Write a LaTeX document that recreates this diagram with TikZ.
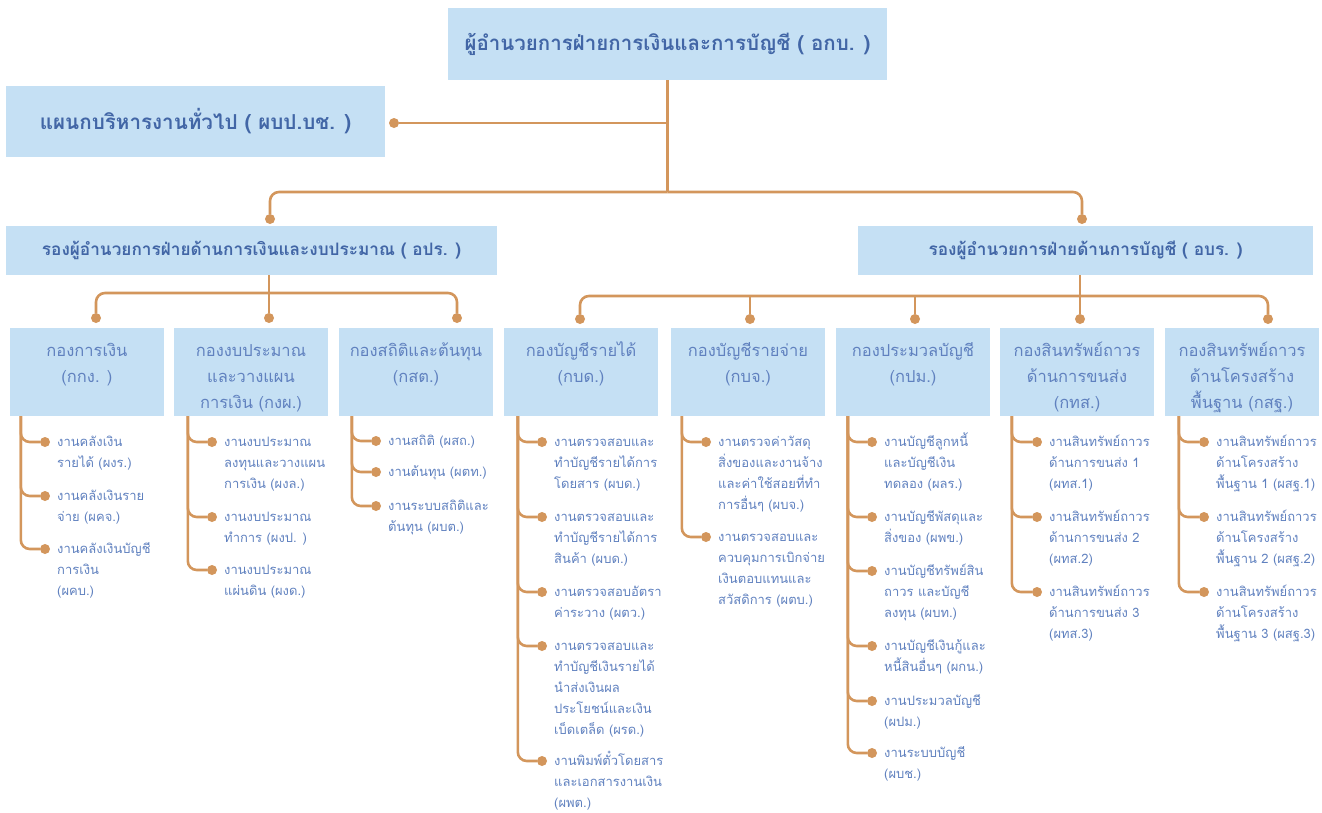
\documentclass[tikz,border=0pt]{standalone}
\usepackage{fontspec}
\setmainfont[Script=Thai]{Loma}
\usetikzlibrary{calc}
\definecolor{boxfill}{RGB}{197,224,244}
\definecolor{linec}{RGB}{211,150,92}
\definecolor{headc}{RGB}{66,102,166}
\definecolor{txtc}{RGB}{96,129,191}
\tikzset{
  bx/.style={fill=boxfill, inner sep=0pt, draw=none},
  headtext/.style={text=headc, font=\fontsize{#1}{#1}\selectfont\bfseries},
  divtext/.style={text=txtc, font=\fontsize{16.5}{26}\selectfont, align=center, inner sep=0pt, anchor=north},
  itemtext/.style={text=txtc, font=\fontsize{13}{21}\selectfont, align=left, inner sep=0pt, anchor=north west},
  dot/.style={circle, fill=linec, inner sep=0pt, minimum size=10pt},
  conn/.style={draw=linec, line width=2.6pt, rounded corners=9pt},
}
\newcommand{\orgitem}[5]{%
  \node[dot] (#1) at (#3,#4) {};
  \draw[conn] (#2) |- (#1);
  \node[itemtext] (#1-t) at ($(#1)+(12,-12)$) {\rule{0pt}{16pt}#5};
}
\newcommand{\divlabel}[3]{%
  \node[divtext] (#1) at (#2,336) {\rule{0pt}{20pt}#3};
}
\begin{document}
\begin{tikzpicture}[x=1pt,y=-1pt]
\useasboundingbox (0,0) rectangle (1322,812);
% main boxes
\node[bx, minimum width=439pt, minimum height=72pt, headtext=20.5] (top) at (667.5,44) {ผู้อำนวยการฝ่ายการเงินและการบัญชี ( อกบ. )};
\node[bx, minimum width=379pt, minimum height=71pt, headtext=20.6] (gen) at (195.5,121.5) {แผนกบริหารงานทั่วไป ( ผบป.บช. )};
\node[bx, minimum width=491pt, minimum height=49pt, headtext=17.2] (depL) at (251.5,250.5) {รองผู้อำนวยการฝ่ายด้านการเงินและงบประมาณ ( อปร. )};
\node[bx, minimum width=455pt, minimum height=49pt, headtext=17.2] (depR) at (1085.5,250.5) {รองผู้อำนวยการฝ่ายด้านการบัญชี ( อบร. )};
% division boxes
\foreach \n/\cx in {b1/87,b2/251,b3/416,b4/581,b5/748,b6/913,b7/1077,b8/1242}{
  \node[bx, minimum width=154pt, minimum height=88pt] (\n) at (\cx,372) {};
}
\divlabel{b1-t}{87}{กองการเงิน\\(กกง. )}
\divlabel{b2-t}{251}{กองงบประมาณ\\และวางแผน\\การเงิน (กงผ.)}
\divlabel{b3-t}{416}{กองสถิติและต้นทุน\\(กสต.)}
\divlabel{b4-t}{581}{กองบัญชีรายได้\\(กบด.)}
\divlabel{b5-t}{748}{กองบัญชีรายจ่าย\\(กบจ.)}
\divlabel{b6-t}{913}{กองประมวลบัญชี\\(กปม.)}
\divlabel{b7-t}{1077}{กองสินทรัพย์ถาวร\\ด้านการขนส่ง\\(กทส.)}
\divlabel{b8-t}{1242}{กองสินทรัพย์ถาวร\\ด้านโครงสร้าง\\พื้นฐาน (กสฐ.)}
% top connectors
\coordinate (hub) at (667.5,192);
\node[dot] (dGen) at (394,123) {};
\node[dot] (dDL) at (270,219) {};
\node[dot] (dDR) at (1082,219) {};
\draw[conn] (top.south) -- (hub);
\draw[conn] (dGen) -- (dGen -| top.south);
\draw[conn] (hub) -| (dDL);
\draw[conn] (hub) -| (dDR);
% left deputy connectors
\coordinate (hl) at (269,293);
\node[dot] (p1) at (96,318) {};
\node[dot] (p2) at (269,318) {};
\node[dot] (p3) at (457,318) {};
\draw[conn] (depL.south -| hl) -- (p2);
\draw[conn] (hl) -| (p1);
\draw[conn] (hl) -| (p3);
% right deputy connectors
\coordinate (hr) at (1080,296);
\node[dot] (q4) at (580,319) {};
\node[dot] (q5) at (750,319) {};
\node[dot] (q6) at (915,319) {};
\node[dot] (q7) at (1080,319) {};
\node[dot] (q8) at (1268,319) {};
\draw[conn] (depR.south -| hr) -- (q7);
\draw[conn] (hr) -| (q4);
\draw[conn] (hr) -| (q8);
\draw[conn] (q5 |- hr) -- (q5);
\draw[conn] (q6 |- hr) -- (q6);
% trunks
\coordinate (t1) at ($(b1.south west)+(11,0)$);
\coordinate (t2) at ($(b2.south west)+(14,0)$);
\coordinate (t3) at ($(b3.south west)+(13,0)$);
\coordinate (t4) at ($(b4.south west)+(14,0)$);
\coordinate (t5) at ($(b5.south west)+(11,0)$);
\coordinate (t6) at ($(b6.south west)+(12,0)$);
\coordinate (t7) at ($(b7.south west)+(12,0)$);
\coordinate (t8) at ($(b8.south west)+(14,0)$);
% items box 1
\orgitem{i1a}{t1}{45}{442}{งานคลังเงิน\\รายได้ (ผงร.)}
\orgitem{i1b}{t1}{45}{496}{งานคลังเงินราย\\จ่าย (ผคจ.)}
\orgitem{i1c}{t1}{45}{549}{งานคลังเงินบัญชี\\การเงิน\\(ผคบ.)}
% items box 2
\orgitem{i2a}{t2}{212}{442}{งานงบประมาณ\\ลงทุนและวางแผน\\การเงิน (ผงล.)}
\orgitem{i2b}{t2}{212}{517}{งานงบประมาณ\\ทำการ (ผงป. )}
\orgitem{i2c}{t2}{212}{570}{งานงบประมาณ\\แผ่นดิน (ผงด.)}
% items box 3
\orgitem{i3a}{t3}{376}{441}{งานสถิติ (ผสถ.)}
\orgitem{i3b}{t3}{376}{472}{งานต้นทุน (ผตท.)}
\orgitem{i3c}{t3}{376}{506}{งานระบบสถิติและ\\ต้นทุน (ผบต.)}
% items box 4
\orgitem{i4a}{t4}{542}{442}{งานตรวจสอบและ\\ทำบัญชีรายได้การ\\โดยสาร (ผบด.)}
\orgitem{i4b}{t4}{542}{517}{งานตรวจสอบและ\\ทำบัญชีรายได้การ\\สินค้า (ผบด.)}
\orgitem{i4c}{t4}{542}{592}{งานตรวจสอบอัตรา\\ค่าระวาง (ผตว.)}
\orgitem{i4d}{t4}{542}{646}{งานตรวจสอบและ\\ทำบัญชีเงินรายได้\\นำส่งเงินผล\\ประโยชน์และเงิน\\เบ็ดเตล็ด (ผรด.)}
\orgitem{i4e}{t4}{542}{761}{งานพิมพ์ตั๋วโดยสาร\\และเอกสารงานเงิน\\(ผพต.)}
% items box 5
\orgitem{i5a}{t5}{706}{442}{งานตรวจค่าวัสดุ\\สิ่งของและงานจ้าง\\และค่าใช้สอยที่ทำ\\การอื่นๆ (ผบจ.)}
\orgitem{i5b}{t5}{706}{537}{งานตรวจสอบและ\\ควบคุมการเบิกจ่าย\\เงินตอบแทนและ\\สวัสดิการ (ผตบ.)}
% items box 6
\orgitem{i6a}{t6}{872}{442}{งานบัญชีลูกหนี้\\และบัญชีเงิน\\ทดลอง (ผลร.)}
\orgitem{i6b}{t6}{872}{517}{งานบัญชีพัสดุและ\\สิ่งของ (ผพข.)}
\orgitem{i6c}{t6}{872}{571}{งานบัญชีทรัพย์สิน\\ถาวร และบัญชี\\ลงทุน (ผบท.)}
\orgitem{i6d}{t6}{872}{646}{งานบัญชีเงินกู้และ\\หนี้สินอื่นๆ (ผกน.)}
\orgitem{i6e}{t6}{872}{701}{งานประมวลบัญชี\\(ผปม.)}
\orgitem{i6f}{t6}{872}{753}{งานระบบบัญชี\\(ผบช.)}
% items box 7
\orgitem{i7a}{t7}{1037}{442}{งานสินทรัพย์ถาวร\\ด้านการขนส่ง 1\\(ผทส.1)}
\orgitem{i7b}{t7}{1037}{517}{งานสินทรัพย์ถาวร\\ด้านการขนส่ง 2\\(ผทส.2)}
\orgitem{i7c}{t7}{1037}{592}{งานสินทรัพย์ถาวร\\ด้านการขนส่ง 3\\(ผทส.3)}
% items box 8
\orgitem{i8a}{t8}{1204}{442}{งานสินทรัพย์ถาวร\\ด้านโครงสร้าง\\พื้นฐาน 1 (ผสฐ.1)}
\orgitem{i8b}{t8}{1204}{517}{งานสินทรัพย์ถาวร\\ด้านโครงสร้าง\\พื้นฐาน 2 (ผสฐ.2)}
\orgitem{i8c}{t8}{1204}{592}{งานสินทรัพย์ถาวร\\ด้านโครงสร้าง\\พื้นฐาน 3 (ผสฐ.3)}
\end{tikzpicture}
\end{document}
